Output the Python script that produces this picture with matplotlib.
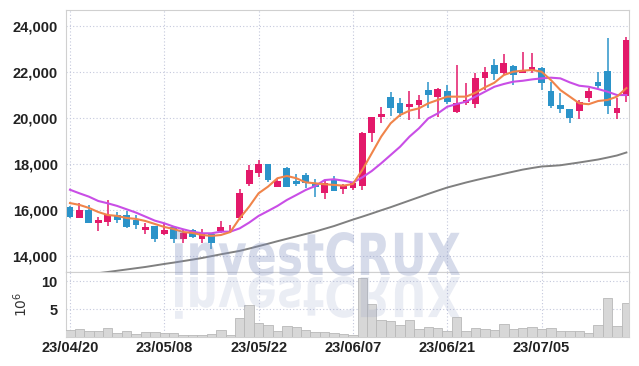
import numpy as np
import matplotlib
matplotlib.use("Agg")
import matplotlib.pyplot as plt
from matplotlib.textpath import TextPath
from matplotlib.patches import PathPatch
from matplotlib.font_manager import FontProperties
from matplotlib.transforms import Affine2D

# x tick labels, one every 10 trading days
tick_labels = ["23/04/20", "23/05/08", "23/05/22", "23/06/07", "23/06/21", "23/07/05"]
tick_step = 10

opens = [16143, 15665, 16000, 15450, 15490, 15780, 15780, 15565, 15130, 15300,
         14940, 15275, 14740, 15130, 14740, 14955, 15100, 15150, 15665, 17117,
         17620, 18000, 16990, 17840, 17260, 17520, 17160, 16725, 17300, 16900,
         16943, 17057, 19335, 20030, 20930, 20640, 20490, 20565, 21217, 20930,
         21175, 20275, 20665, 20610, 21725, 22305, 21945, 22260, 21970, 22060,
         22190, 21175, 20565, 20380, 20320, 20860, 21580, 22045, 20205, 20970]
highs = [16190, 16290, 16217, 15710, 16435, 15930, 15970, 15780, 15420, 15300,
         15450, 15300, 15160, 15160, 15160, 14970, 15520, 15350, 16900, 17957,
         18175, 18000, 17380, 17880, 17565, 17600, 17335, 17300, 17480, 17130,
         17230, 19405, 20040, 20490, 21145, 20857, 21175, 21000, 21550, 21300,
         21435, 22305, 21510, 21970, 22205, 22550, 22770, 22300, 22880, 22840,
         22230, 21550, 21075, 20400, 20785, 21290, 22015, 23465, 20880, 23535]
lows = [15650, 15640, 15420, 15100, 15300, 15420, 15230, 15160, 14955, 14620,
        14925, 14550, 14550, 14770, 14580, 14300, 15013, 14985, 15565, 17057,
        17450, 17200, 16990, 16990, 17040, 16943, 16550, 16465, 16840, 16700,
        16870, 16870, 18945, 19770, 20090, 20057, 19913, 19940, 20420, 20030,
        20610, 20205, 20565, 20420, 21217, 21650, 21850, 21435, 21940, 21940,
        21217, 20420, 20205, 19770, 19957, 20710, 21290, 20160, 19957, 20685]
closes = [15709, 16000, 15450, 15565, 15780, 15565, 15275, 15350, 15275, 14725,
          15130, 14740, 14985, 14840, 14985, 14580, 15248, 15170, 16750, 17740,
          18000, 17300, 17260, 17013, 17130, 17160, 16990, 17190, 16840, 17040,
          17160, 19360, 20030, 20175, 20420, 20205, 20610, 20780, 21000, 21250,
          20710, 20640, 20780, 21725, 22015, 21900, 22380, 21870, 22090, 22200,
          21510, 20520, 20380, 19990, 20685, 21175, 21390, 20535, 20420, 23390]

# volume in millions
volumes = [1.35, 1.45, 1.0, 1.0, 1.65, 0.75, 1.0, 0.6, 0.9, 0.9,
           0.8, 0.75, 0.35, 0.35, 0.35, 0.55, 1.3, 0.35, 3.45, 5.7,
           2.55, 2.25, 1.0, 2.0, 1.8, 1.3, 0.9, 0.9, 0.8, 0.55,
           0.35, 10.7, 6.0, 3.15, 2.8, 2.25, 3.1, 1.5, 1.8, 1.65,
           1.0, 3.65, 1.15, 1.65, 1.45, 1.35, 2.4, 1.45, 1.65, 1.8,
           1.5, 1.65, 1.15, 1.0, 1.1, 0.75, 2.25, 7.0, 2.0, 6.2]

# moving averages
ma_short = [16300, 16220, 16090, 15910, 15780, 15740, 15650, 15610, 15520, 15390,
            15260, 15170, 15040, 15000, 14910, 14870, 14910, 15040, 15640, 16145,
            16725, 17015, 17380, 17480, 17380, 17200, 17160, 17117, 17090, 17057,
            17130, 17740, 18465, 19190, 19770, 20130, 20320, 20420, 20640, 20785,
            20930, 20930, 20930, 21100, 21335, 21535, 21870, 22015, 22060, 22090,
            22015, 21650, 21217, 20930, 20640, 20600, 20740, 20785, 20930, 21300]
ma_mid = [16880, 16725, 16580, 16390, 16290, 16175, 16030, 15885, 15710, 15535,
          15420, 15275, 15160, 15055, 14985, 14985, 15055, 15055, 15200, 15450,
          15740, 15955, 16175, 16435, 16650, 16870, 17040, 17300, 17335, 17275,
          17190, 17420, 17695, 18030, 18390, 18750, 19190, 19550, 19985, 20200,
          20490, 20610, 20710, 20930, 21145, 21360, 21480, 21580, 21620, 21680,
          21725, 21755, 21725, 21550, 21405, 21360, 21260, 21145, 21000, 21000]
ma_long = [13100, 13150, 13200, 13250, 13300, 13355, 13410, 13465, 13520, 13585,
           13650, 13710, 13775, 13840, 13910, 13990, 14070, 14145, 14220, 14320,
           14425, 14530, 14640, 14745, 14850, 14955, 15060, 15180, 15300, 15440,
           15580, 15710, 15845, 15985, 16120, 16265, 16410, 16555, 16700, 16840,
           16975, 17085, 17195, 17295, 17390, 17480, 17575, 17665, 17755, 17825,
           17890, 17915, 17945, 18005, 18065, 18130, 18195, 18280, 18370, 18500]

UP = "#e3196a"
DOWN = "#2b93c9"
GRID = "#c4c8dc"
FONT = ["Liberation Sans", "DejaVu Sans"]


def style_axis(ax):
    for s in ax.spines.values():
        s.set_color("#d0d0d0")
        s.set_linewidth(0.8)
    ax.grid(True, color=GRID, linestyle=(0, (1, 2)), linewidth=0.8)
    ax.set_axisbelow(True)
    ax.tick_params(length=0, labelsize=10.5, labelcolor="#222222", pad=6)
    for lab in ax.get_yticklabels() + ax.get_xticklabels():
        lab.set_family(FONT)
        lab.set_fontweight("bold")


def main():
    fig = plt.figure(figsize=(6.39, 3.66), dpi=100)
    ax = fig.add_axes([0.1033, 0.2568, 0.8811, 0.7159])
    axv = fig.add_axes([0.1033, 0.0792, 0.8811, 0.1776], sharex=ax)

    x = np.arange(len(closes))
    o = np.array(opens)
    c = np.array(closes)
    colors = [UP if cc >= oo else DOWN for oo, cc in zip(o, c)]

    ax.vlines(x, lows, highs, colors=colors, linewidth=1.1, zorder=3)
    body = np.maximum(np.abs(c - o), 25)
    ax.bar(x, body, bottom=np.minimum(o, c), width=0.72, color=colors,
           linewidth=0, zorder=4)

    ax.plot(x, ma_long, color="#808080", linewidth=1.4, zorder=5)
    ax.plot(x, ma_mid, color="#c94ee6", linewidth=1.5, zorder=5)
    ax.plot(x, ma_short, color="#f0844a", linewidth=1.5, zorder=5)

    ax.set_xlim(-0.42, 59.28)
    ax.set_ylim(13300, 24700)
    ax.set_yticks(range(14000, 24001, 2000))
    ax.yaxis.set_major_formatter(plt.FuncFormatter(lambda v, p: f"{v:,.0f}"))
    ticks = list(range(0, len(closes), tick_step))[:len(tick_labels)]
    ax.set_xticks(ticks)
    ax.tick_params(labelbottom=False)

    axv.bar(x, volumes, width=1.0, color="#d7d7d7", edgecolor="#b8b8b8",
            linewidth=0.6, zorder=3)
    axv.set_ylim(0, 11.7)
    axv.set_yticks([5, 10])
    axv.set_xticks(ticks)
    axv.set_xticklabels(tick_labels)

    style_axis(ax)
    style_axis(axv)
    ax.spines["bottom"].set_color("#b8b8b8")
    axv.tick_params(axis="x", pad=3)
    axv.set_ylabel(r"$10^6$", fontsize=10, color="#333333", labelpad=8)

    # watermark with its mirror image
    wm = fig.add_axes([0, 0, 1, 1], zorder=10)
    wm.set_xlim(0, 639)
    wm.set_ylim(366, 0)
    wm.axis("off")
    wm.patch.set_alpha(0)
    tp = TextPath((0, 0), "investCRUX", size=1,
                  prop=FontProperties(family="DejaVu Sans", weight="bold"))
    bb = tp.get_extents()
    sx = 285 / bb.width
    sy = 44 / bb.y1
    up_tr = Affine2D().translate(-bb.x0, 0).scale(sx, -sy).translate(175, 275)
    dn_tr = Affine2D().translate(-bb.x0, 0).scale(sx, sy * 0.95).translate(175, 277)
    wm.add_patch(PathPatch(up_tr.transform_path(tp), color="#8090c0",
                           alpha=0.32, linewidth=0))
    wm.add_patch(PathPatch(dn_tr.transform_path(tp), color="#8090c0",
                           alpha=0.16, linewidth=0))

    fig.savefig("out.png", dpi=100)


if __name__ == "__main__":
    main()
